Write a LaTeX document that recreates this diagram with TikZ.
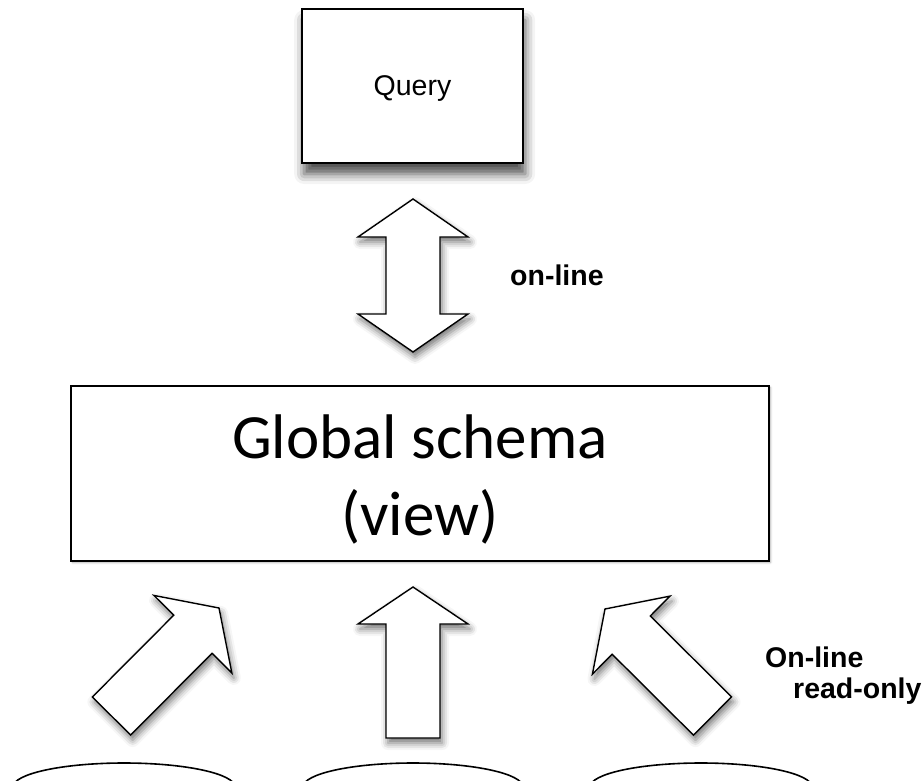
\documentclass[tikz,border=0pt]{standalone}
\usepackage{fontspec}
\newfontfamily\arialfont{Liberation Sans}
\newfontfamily\calibrifont{Carlito}
\usetikzlibrary{calc,shadows.blur}

\tikzset{
  box/.style={draw=black, line width=1.8pt, fill=white},
  bigarrow/.style={draw=black, line width=1.4pt, fill=white, line join=miter,
    blur shadow={shadow xshift=2pt, shadow yshift=-5pt, shadow blur radius=7pt, shadow opacity=55}},
  tag/.style={font=\arialfont\bfseries\fontsize{28.5}{30}\selectfont, inner sep=0pt, anchor=base west},
  source/.style={draw=black, line width=1.6pt, fill=white},
}

% fat arrow from tail #1 to tip #2
\newcommand{\fatarrow}[2]{%
  \coordinate (h) at ($(#2)!37pt!(#1)$);
  \draw[bigarrow] ($(#1)!27pt!90:(#2)$) -- ($(h)!27pt!-90:(#1)$) -- ($(h)!55pt!-90:(#1)$)
    -- (#2) -- ($(h)!55pt!90:(#1)$) -- ($(h)!27pt!90:(#1)$) -- ($(#1)!27pt!-90:(#2)$) -- cycle;}

% fat arrow with a head at both ends
\newcommand{\fatdoublearrow}[2]{%
  \coordinate (ha) at ($(#1)!38pt!(#2)$);
  \coordinate (hb) at ($(#2)!38pt!(#1)$);
  \draw[bigarrow] (#1) -- ($(ha)!55pt!90:(#2)$) -- ($(ha)!27pt!90:(#2)$) -- ($(hb)!27pt!-90:(#1)$)
    -- ($(hb)!55pt!-90:(#1)$) -- (#2) -- ($(hb)!55pt!90:(#1)$) -- ($(hb)!27pt!90:(#1)$)
    -- ($(ha)!27pt!-90:(#2)$) -- ($(ha)!55pt!-90:(#2)$) -- cycle;}

\begin{document}
\begin{tikzpicture}[x=1pt,y=-1pt]
\useasboundingbox (0,0) rectangle (923,781);
\clip (0,0) rectangle (923,781);

% boxes
\node[box, minimum width=221pt, minimum height=154pt, text depth=0pt,
  blur shadow={shadow yshift=-11pt, shadow blur radius=10pt, shadow opacity=70},
  font=\arialfont\fontsize{28.5}{30}\selectfont] (query) at (412.5,86) {Query};
\node[box, minimum width=698pt, minimum height=175pt,
  blur shadow={shadow xshift=1.5pt, shadow yshift=-1.5pt, shadow blur radius=2pt, shadow opacity=35}]
  (global) at (420,473.5) {};
\node[align=center, font=\calibrifont\fontsize{63}{77}\selectfont] (gstext)
  at ($(global.center)+(0,6)$) {Global schema\\(view)};

% sources
\draw[source] (124,787) ellipse (111pt and 24pt);
\draw[source] (413,787) ellipse (110pt and 24pt);
\draw[source] (701,787) ellipse (111pt and 24pt);

% arrow ends
\coordinate (qtop) at (413,199);
\coordinate (qbot) at (413,352);
\coordinate (ltail) at (111.5,716);
\coordinate (ltip) at (219,608);
\coordinate (mtail) at (413,738);
\coordinate (mtip) at (413,587);
\coordinate (rtail) at (712.5,716);
\coordinate (rtip) at (605,609);

\fatdoublearrow{qtop}{qbot}
\fatarrow{ltail}{ltip}
\fatarrow{mtail}{mtip}
\fatarrow{rtail}{rtip}

% labels
\node[tag] (online) at (510,285) {on-line};
\node[tag] (online2) at (765,667) {On-line};
\node[tag] (readonly) at (793,698) {read-only};
\end{tikzpicture}
\end{document}
